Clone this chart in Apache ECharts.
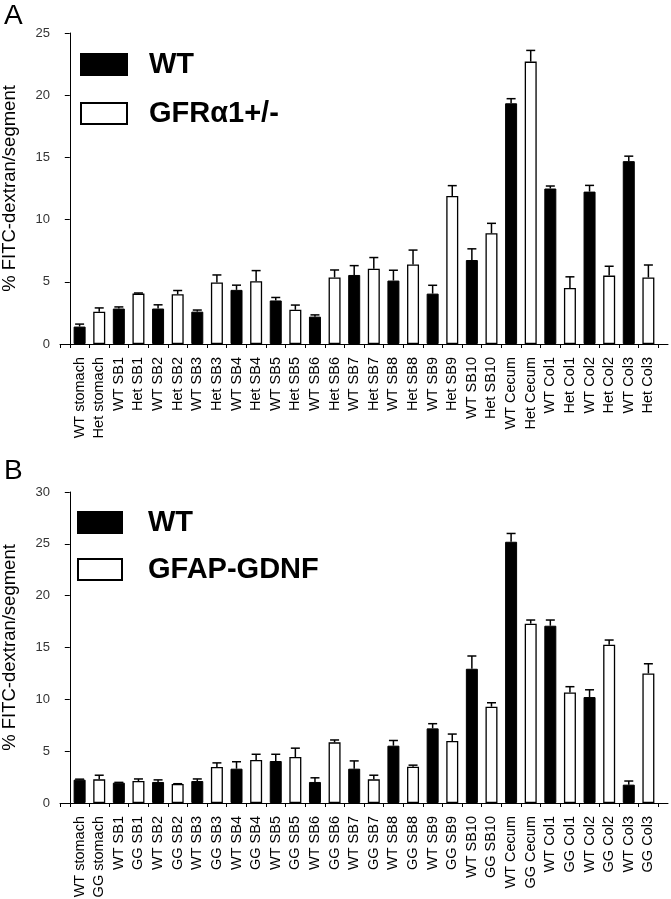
<!DOCTYPE html>
<html>
<head>
<meta charset="utf-8">
<script src="https://cdn.jsdelivr.net/npm/echarts@6/dist/echarts.min.js"></script>
<style>
html,body{margin:0;padding:0;background:#fff;}
#chart{width:671px;height:899px;}
</style>
</head>
<body>
<div id="chart"></div>
<script>
// ---------- Panel A data ----------
const catsA = ['WT stomach','Het stomach','WT SB1','Het SB1','WT SB2','Het SB2','WT SB3','Het SB3',
  'WT SB4','Het SB4','WT SB5','Het SB5','WT SB6','Het SB6','WT SB7','Het SB7','WT SB8','Het SB8',
  'WT SB9','Het SB9','WT SB10','Het SB10','WT Cecum','Het Cecum','WT Col1','Het Col1','WT Col2','Het Col2',
  'WT Col3','Het Col3'];
const wtA     = [1.4, 2.85, 2.85, 2.6, 4.35, 3.5, 2.2, 5.55, 5.1, 4.05, 6.75, 19.35, 12.5, 12.25, 14.7];
const wtAErr  = [0.2, 0.13, 0.3, 0.13, 0.38, 0.24, 0.14, 0.75, 0.83, 0.67, 0.9, 0.37, 0.2, 0.5, 0.4];
const hetA    = [2.6, 4.05, 4.0, 4.95, 5.05, 2.75, 5.35, 6.05, 6.4, 11.9, 8.9, 22.7, 4.5, 5.5, 5.35];
const hetAErr = [0.3, 0.05, 0.3, 0.6, 0.85, 0.38, 0.6, 0.9, 1.15, 0.83, 0.8, 0.9, 0.9, 0.75, 1.0];
const ticksA  = {min: 0, max: 25, interval: 5};

// ---------- Panel B data ----------
const catsB = ['WT stomach','GG stomach','WT SB1','GG SB1','WT SB2','GG SB2','WT SB3','GG SB3',
  'WT SB4','GG SB4','WT SB5','GG SB5','WT SB6','GG SB6','WT SB7','GG SB7','WT SB8','GG SB8',
  'WT SB9','GG SB9','WT SB10','GG SB10','WT Cecum','GG Cecum','WT Col1','GG Col1','WT Col2','GG Col2',
  'WT Col3','GG Col3'];
const wtB    = [2.25, 1.96, 2.03, 2.12, 3.31, 4.05, 2.03, 3.31, 5.53, 7.2, 12.95, 25.2, 17.1, 10.22, 1.77];
const wtBErr = [0.05, 0.03, 0.2, 0.2, 0.67, 0.65, 0.4, 0.75, 0.5, 0.45, 1.23, 0.8, 0.55, 0.7, 0.35];
const ggB    = [2.28, 2.12, 1.83, 3.47, 4.15, 4.44, 5.85, 2.28, 3.5, 5.98, 9.29, 17.3, 10.67, 15.27, 12.5];
const ggBErr = [0.4, 0.2, 0.03, 0.4, 0.55, 0.85, 0.23, 0.4, 0.15, 0.67, 0.38, 0.35, 0.55, 0.45, 0.93];
const ticksB = {min: 0, max: 30, interval: 5};

const yTitle = '% FITC-dextran/segment';
const FONT = 'Liberation Sans, Arial, Helvetica, sans-serif';

// category axis with a blank slot at each end
function padCats(c){ return [''].concat(c, ['']); }
function slotData(vals, offset){
  const d = new Array(32).fill('-');
  vals.forEach((v,i)=>{ d[1 + offset + 2*i] = v; });
  return d;
}
function errData(vals, errs, offset){
  return vals.map((v,i)=>[1 + offset + 2*i, v, errs[i]]);
}
function errRender(params, api){
  const x = api.value(0), v = api.value(1), e = api.value(2);
  const p0 = api.coord([x, v]);
  const p1 = api.coord([x, v + e]);
  const st = {stroke:'#000', lineWidth:1.5};
  return {type:'group', children:[
    {type:'line', shape:{x1:p0[0], y1:p0[1], x2:p1[0], y2:p1[1]}, style:st},
    {type:'line', shape:{x1:p1[0]-4.5, y1:p1[1], x2:p1[0]+4.5, y2:p1[1]}, style:st}
  ]};
}

function catAxis(grid, cats){
  return {type:'category', gridIndex:grid, data:padCats(cats), boundaryGap:false,
    axisLine:{show:true, onZero:false, lineStyle:{color:'#000', width:1}},
    axisTick:{show:false},
    axisLabel:{interval:0, rotate:90, fontSize:14.5, color:'#000', fontFamily:FONT, margin:13}};
}
// ticks between categories (half-slot positions) on a doubled-resolution value axis
function tickAxis(grid, cats){
  const tv = [-1].concat(cats.map((_, i) => 2 * i), [2 * cats.length]);
  return {type:'value', gridIndex:grid, position:'bottom', min:-1, max:61, interval:2,
    axisLine:{show:false},
    axisTick:{show:true, length:4, lineStyle:{color:'#000'}, customValues:tv},
    axisLabel:{show:false}, splitLine:{show:false}};
}
function valAxis(grid, t){
  return {type:'value', gridIndex:grid, min:t.min, max:t.max, interval:t.interval,
    name:yTitle, nameLocation:'middle', nameGap:41,
    nameTextStyle:{fontSize:18.5, color:'#000', fontFamily:FONT},
    axisLine:{show:true, lineStyle:{color:'#000', width:1}},
    axisTick:{show:true, length:5, lineStyle:{color:'#000'}},
    axisLabel:{fontSize:13, color:'#333', fontFamily:FONT, margin:10},
    splitLine:{show:false}};
}
const blackStyle = {color:'#000', borderColor:'#000', borderWidth:1};
const whiteStyle = {color:'#fff', borderColor:'#000', borderWidth:1.3};

const option = {
  animation:false,
  backgroundColor:'#fff',
  title:[
    {text:'A', left:4, top:2, padding:0, textStyle:{fontSize:28, fontWeight:'normal', color:'#000', fontFamily:FONT}},
    {text:'B', left:4, top:457, padding:0, textStyle:{fontSize:28, fontWeight:'normal', color:'#000', fontFamily:FONT}}
  ],
  legend:[
    {data:['WT','GFRα1+/-'], orient:'vertical', left:80, top:50, padding:0, itemGap:20,
     itemWidth:46, itemHeight:21, icon:'rect',
     textStyle:{fontSize:29, fontWeight:'bold', color:'#000', fontFamily:FONT, lineHeight:21, padding:[0,0,0,17]}},
    {data:['WT','GFAP-GDNF'], orient:'vertical', left:77, top:508, padding:0, itemGap:18,
     itemWidth:44, itemHeight:21, icon:'rect',
     textStyle:{fontSize:29, fontWeight:'bold', color:'#000', fontFamily:FONT, lineHeight:21, padding:[0,0,0,21]}}
  ],
  grid:[
    {left:60, right:3, top:33, height:311, containLabel:false, outerBoundsMode:'none'},
    {left:60, right:3, top:492, height:311, containLabel:false, outerBoundsMode:'none'}
  ],
  xAxis:[catAxis(0, catsA), tickAxis(0, catsA), catAxis(1, catsB), tickAxis(1, catsB)],
  yAxis:[valAxis(0, ticksA), valAxis(1, ticksB)],
  series:[
    {name:'WT', type:'bar', xAxisIndex:0, yAxisIndex:0, data:slotData(wtA,0), barWidth:12, barGap:'-100%', itemStyle:blackStyle},
    {name:'GFRα1+/-', type:'bar', xAxisIndex:0, yAxisIndex:0, data:slotData(hetA,1), barWidth:12, barGap:'-100%', itemStyle:whiteStyle},
    {type:'custom', xAxisIndex:0, yAxisIndex:0, renderItem:errRender, data:errData(wtA, wtAErr, 0), encode:{x:0, y:1}, z:5},
    {type:'custom', xAxisIndex:0, yAxisIndex:0, renderItem:errRender, data:errData(hetA, hetAErr, 1), encode:{x:0, y:1}, z:5},
    {name:'WT', type:'bar', xAxisIndex:2, yAxisIndex:1, data:slotData(wtB,0), barWidth:12, barGap:'-100%', itemStyle:blackStyle},
    {name:'GFAP-GDNF', type:'bar', xAxisIndex:2, yAxisIndex:1, data:slotData(ggB,1), barWidth:12, barGap:'-100%', itemStyle:whiteStyle},
    {type:'custom', xAxisIndex:2, yAxisIndex:1, renderItem:errRender, data:errData(wtB, wtBErr, 0), encode:{x:0, y:1}, z:5},
    {type:'custom', xAxisIndex:2, yAxisIndex:1, renderItem:errRender, data:errData(ggB, ggBErr, 1), encode:{x:0, y:1}, z:5}
  ]
};
const chart = echarts.init(document.getElementById('chart'), null, {renderer:'canvas'});
chart.setOption(option);
</script>
</body>
</html>
